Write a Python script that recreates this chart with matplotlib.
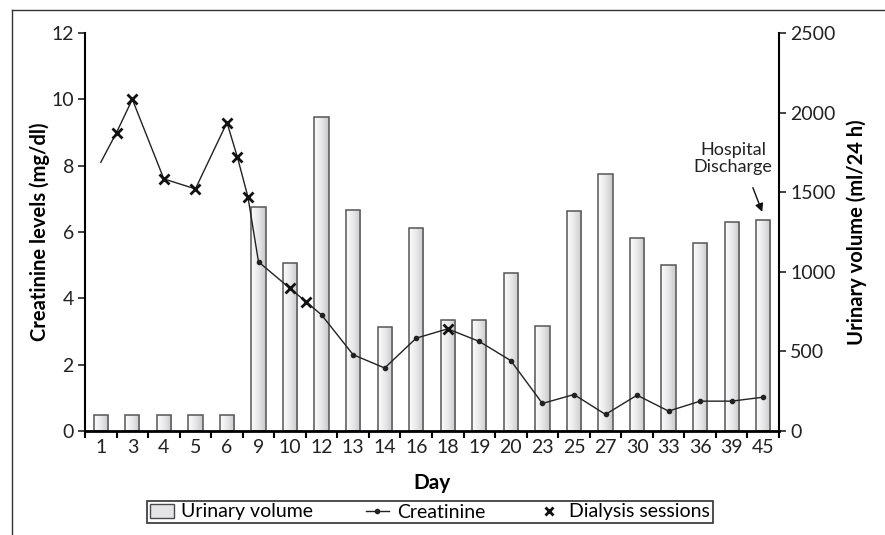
import numpy as np
import matplotlib
matplotlib.use("Agg")
from matplotlib import pyplot as plt
from matplotlib.lines import Line2D
from matplotlib.patches import Patch

plt.rcParams["font.family"] = ["Lato", "DejaVu Sans"]

# categorical day axis (bars)
days = ["1", "3", "4", "5", "6", "9", "10", "12", "13", "14", "16", "18", "19", "20",
        "23", "25", "27", "30", "33", "36", "39", "45"]
urinary_volume = [100, 100, 100, 100, 100, 1405, 1055, 1970, 1390, 655, 1275, 700, 700, 990,
                  660, 1385, 1615, 1215, 1045, 1180, 1315, 1325]

# creatinine measured on actual days (some fall between categories)
creat_days = [1, 2, 3, 4, 5, 6, 7, 8, 9, 10, 11, 12, 13, 14, 16, 18, 19, 20, 23, 25, 27, 30, 33, 36, 39, 45]
creatinine = [8.1, 9.0, 10.0, 7.6, 7.3, 9.3, 8.25, 7.05, 5.1, 4.3, 3.9, 3.5, 2.3, 1.9, 2.8, 3.08,
              2.7, 2.12, 0.83, 1.1, 0.5, 1.08, 0.6, 0.9, 0.9, 1.02]
dialysis_days = [2, 3, 4, 5, 6, 7, 8, 10, 11, 18]

cat_days = [int(d) for d in days]
cat_idx = np.arange(len(days))
creat_x = np.interp(creat_days, cat_days, cat_idx)
dial_mask = np.isin(creat_days, dialysis_days)
dot_mask = ~dial_mask & (np.array(creat_days) != 1)
creat_arr = np.array(creatinine)

fig = plt.figure(figsize=(8.85, 5.35), dpi=100)
ax = fig.add_axes([85 / 885, 1 - 431 / 535, (779 - 85) / 885, (431 - 33) / 535])
ax2 = ax.twinx()
ax.set_zorder(ax2.get_zorder() + 1)
ax.patch.set_visible(False)

# bars with horizontal gradient
bars = ax2.bar(cat_idx, urinary_volume, width=0.45, facecolor="none", edgecolor="#555555",
               linewidth=1.1, zorder=3)
grad = np.linspace(0, 1, 64).reshape(1, -1)
cmap = matplotlib.colors.LinearSegmentedColormap.from_list("g", ["#fcfcfc", "#e8e8ea", "#c8c8ca"])
for b in bars:
    x0, w, h = b.get_x(), b.get_width(), b.get_height()
    im = ax2.imshow(grad, extent=[x0, x0 + w, 0, h], aspect="auto", cmap=cmap, zorder=2)
    im.set_clip_path(b)

ax.plot(creat_x, creat_arr, color="#222222", lw=1.0, zorder=4)
ax.plot(creat_x[dot_mask], creat_arr[dot_mask], "o", color="#222222", ms=3, zorder=5)
ax.plot(creat_x[dial_mask], creat_arr[dial_mask], "x", color="#111111", ms=7.5, mew=2, zorder=6)

ax.set_xlim(-0.5, len(days) - 0.5)
ax.set_ylim(0, 12)
ax2.set_ylim(0, 2500)
ax.set_yticks(range(0, 13, 2))
ax2.set_yticks(range(0, 2501, 500))
ax.set_xticks(cat_idx)
ax.set_xticklabels(days)
ax.set_xticks(np.arange(-0.5, len(days), 1), minor=True)
ax.tick_params(axis="x", which="major", length=0, labelsize=14, pad=6, colors="#222222")
ax.tick_params(axis="x", which="minor", length=5, width=1.5, direction="out")
ax.tick_params(axis="y", length=5, width=1.2, labelsize=14, pad=3, colors="#222222")
ax2.tick_params(axis="y", length=5, width=1.2, labelsize=14, pad=3, colors="#222222")

for a in (ax, ax2):
    a.spines["top"].set_visible(False)
ax.spines["right"].set_visible(False)
ax2.spines["left"].set_visible(False)
ax2.spines["bottom"].set_visible(False)
ax.spines["bottom"].set_linewidth(2.0)
ax.spines["left"].set_linewidth(1.5)
ax2.spines["right"].set_linewidth(1.5)

ax.set_ylabel("Creatinine levels (mg/dl)", fontsize=14.5, fontweight="bold", labelpad=1)
ax2.set_ylabel("Urinary volume (ml/24 h)", fontsize=14.5, fontweight="bold", labelpad=8)
ax.set_xlabel("Day", fontsize=15, fontweight="bold", labelpad=12)

ax2.annotate("", xy=(21, 1360), xytext=(20.64, 1545),
             arrowprops=dict(arrowstyle="-|>", color="#111111", lw=1, mutation_scale=12))
ax2.text(20.05, 1710, "Hospital\nDischarge", ha="center", va="center", fontsize=13,
         color="#222222", linespacing=1.05)

handles = [Patch(facecolor="#e4e4e6", edgecolor="#4a4a4a", linewidth=1),
           Line2D([], [], color="#222222", lw=1, marker="o", ms=3),
           Line2D([], [], color="#111111", ls="none", marker="x", ms=6, mew=2)]
leg = fig.legend(handles, ["Urinary volume", "Creatinine", "Dialysis sessions"],
                 loc="center", bbox_to_anchor=(430 / 885, 1 - 512 / 535), ncol=3,
                 fontsize=14, frameon=True, fancybox=False, edgecolor="#111111",
                 handlelength=1.2, handletextpad=0.4, columnspacing=2.7,
                 borderpad=0.15, borderaxespad=0)
leg.get_frame().set_linewidth(1.3)

# outer frame
fig.add_artist(Line2D([12 / 885, 1], [1 - 10 / 535, 1 - 10 / 535], color="#333333", lw=1))
fig.add_artist(Line2D([12 / 885, 12 / 885], [0, 1 - 10 / 535], color="#333333", lw=1))

fig.savefig("out.png", dpi=100)
